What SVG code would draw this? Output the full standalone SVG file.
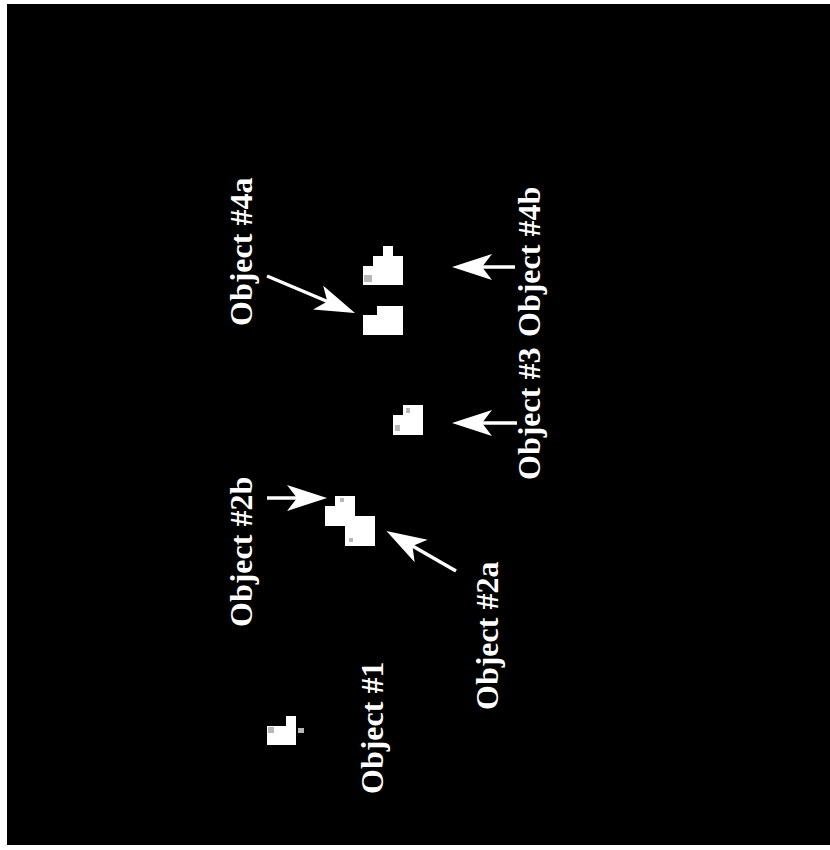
<svg xmlns="http://www.w3.org/2000/svg" width="830" height="850" viewBox="0 0 830 850">
  <style>
    .label { font-family: "Liberation Serif", "Times New Roman", serif; font-weight: bold; font-size: 32px; fill: #ffffff; }
    .blob { fill: #ffffff; }
    .speck { fill: #b8b8b8; }
    .shaft { stroke: #ffffff; stroke-width: 3.5; fill: none; }
  </style>
  <defs>
    <marker id="head" markerUnits="userSpaceOnUse" markerWidth="42" markerHeight="28" refX="14" refY="13" orient="auto">
      <path d="M0,0 L40,13 L0,26 L10,13 Z" fill="#ffffff"/>
    </marker>
  </defs>

  <!-- page and dark field -->
  <rect x="0" y="0" width="830" height="850" fill="#ffffff"/>
  <rect x="7" y="4" width="823" height="841" fill="#000000"/>

  <!-- objects -->
  <g id="object1">
    <path class="blob" d="M286,716 H296 V745 H267 V726 H286 Z"/>
    <rect class="speck" x="268" y="727" width="6" height="6"/>
    <rect class="speck" x="298" y="728" width="6" height="5"/>
  </g>
  <g id="object2b">
    <path class="blob" d="M335,496 H355 V526 H325 V506 H335 Z"/>
    <rect class="speck" x="340" y="498" width="4" height="4"/>
  </g>
  <g id="object2a">
    <rect class="blob" x="345" y="516" width="30" height="30"/>
    <rect class="speck" x="349" y="538" width="4" height="4"/>
  </g>
  <g id="object3">
    <path class="blob" d="M403,405 H423 V435 H393 V415 H403 Z"/>
    <rect class="speck" x="406" y="408" width="4" height="5"/>
    <rect class="speck" x="395" y="425" width="5" height="6"/>
  </g>
  <g id="object4a">
    <path class="blob" d="M377,306 H403 V335 H363 V315 H377 Z"/>
  </g>
  <g id="object4b">
    <path class="blob" d="M383,246 H393 V256 H403 V285 H363 V266 H373 V256 H383 Z"/>
    <rect class="speck" x="364" y="275" width="8" height="7"/>
  </g>

  <!-- labels -->
  <g id="label1"><text class="label" transform="translate(383,794) rotate(-90)">Object #1</text></g>
  <g id="label2b"><text class="label" transform="translate(252,627) rotate(-90)">Object #2b</text></g>
  <g id="label2a"><text class="label" transform="translate(498,710) rotate(-90)">Object #2a</text></g>
  <g id="label4a"><text class="label" transform="translate(252,326) rotate(-90)">Object #4a</text></g>
  <g id="label3"><text class="label" transform="translate(540,480) rotate(-90)">Object #3</text></g>
  <g id="label4b"><text class="label" transform="translate(540,337) rotate(-90)">Object #4b</text></g>

  <!-- pointers -->
  <g id="connectors">
    <line class="shaft" x1="267" y1="498" x2="301" y2="498" marker-end="url(#head)"/>
    <line class="shaft" x1="456" y1="571" x2="409" y2="544" marker-end="url(#head)"/>
    <line class="shaft" x1="517" y1="423" x2="478" y2="423" marker-end="url(#head)"/>
    <line class="shaft" x1="515" y1="267" x2="478" y2="267" marker-end="url(#head)"/>
    <line class="shaft" x1="267" y1="276" x2="331" y2="303" marker-end="url(#head)"/>
  </g>
</svg>
